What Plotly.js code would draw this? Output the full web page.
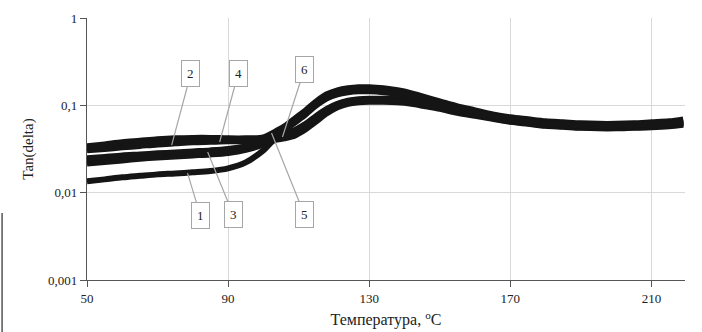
<!DOCTYPE html>
<html>
<head>
<meta charset="utf-8">
<script src="https://cdn.plot.ly/plotly-3.0.1.min.js"></script>
<style>html,body{margin:0;padding:0;background:#fff;}#chart{width:702px;height:332px;}</style>
</head>
<body>
<div id="chart"></div>
<script>
// Temperature, °C
const temperature = [50,55,60,65,70,75,80,85,90,95,100,103,106,109,112,115,118,121,124,127,130,134,138,142,146,150,155,160,165,170,175,180,185,190,195,200,205,210,215,219];

// Tan(delta) for each sample
const tan1 = [0.0135,0.0142,0.0150,0.0156,0.0162,0.0166,0.0171,0.0177,0.0190,0.0222,0.0305,0.0397,0.0419,0.0453,0.0531,0.0656,0.0810,0.0949,0.1041,0.1083,0.1097,0.1097,0.1083,0.1041,0.0974,0.0912,0.0821,0.0758,0.0701,0.0648,0.0614,0.0582,0.0568,0.0553,0.0545,0.0545,0.0553,0.0560,0.0575,0.0598];
const tan2 = [0.0339,0.0357,0.0377,0.0392,0.0408,0.0419,0.0424,0.0424,0.0419,0.0419,0.0430,0.0491,0.0575,0.0710,0.0877,0.1112,0.1338,0.1487,0.1567,0.1609,0.1609,0.1567,0.1487,0.1373,0.1236,0.1112,0.0974,0.0877,0.0789,0.0729,0.0691,0.0656,0.0639,0.0622,0.0614,0.0614,0.0622,0.0639,0.0656,0.0691];
const tan3 = [0.0228,0.0237,0.0247,0.0253,0.0260,0.0267,0.0274,0.0285,0.0297,0.0321,0.0367,0.0436,0.0472,0.0524,0.0614,0.0758,0.0912,0.1041,0.1127,0.1172,0.1188,0.1188,0.1172,0.1127,0.1054,0.0987,0.0889,0.0821,0.0758,0.0701,0.0665,0.0631,0.0614,0.0598,0.0590,0.0590,0.0598,0.0606,0.0622,0.0648];
const tan4 = [0.0305,0.0317,0.0330,0.0343,0.0357,0.0367,0.0377,0.0382,0.0387,0.0387,0.0397,0.0441,0.0517,0.0639,0.0789,0.1000,0.1203,0.1338,0.1410,0.1448,0.1448,0.1410,0.1338,0.1236,0.1112,0.1000,0.0877,0.0789,0.0710,0.0656,0.0622,0.0590,0.0575,0.0560,0.0553,0.0553,0.0560,0.0575,0.0590,0.0622];
const tan5 = [0.0216,0.0225,0.0234,0.0244,0.0253,0.0260,0.0267,0.0274,0.0285,0.0309,0.0357,0.0419,0.0453,0.0504,0.0590,0.0729,0.0877,0.1000,0.1083,0.1127,0.1141,0.1141,0.1127,0.1083,0.1014,0.0949,0.0854,0.0789,0.0729,0.0673,0.0639,0.0606,0.0590,0.0575,0.0568,0.0568,0.0575,0.0582,0.0598,0.0622];
const tan6 = [0.0247,0.0257,0.0267,0.0274,0.0282,0.0289,0.0297,0.0305,0.0317,0.0339,0.0387,0.0465,0.0545,0.0673,0.0831,0.1054,0.1269,0.1410,0.1487,0.1526,0.1526,0.1487,0.1410,0.1303,0.1172,0.1054,0.0924,0.0831,0.0748,0.0691,0.0656,0.0622,0.0606,0.0590,0.0582,0.0582,0.0590,0.0606,0.0622,0.0656];

// Curve labels: number, pointed point (T, tan), label box position (T, tan)
const labelNames = ['1','2','3','4','5','6'];
const labelPointT = [78.5, 74.0, 84.2, 87.6, 102.3, 105.4];
const labelPointV = [0.01677, 0.0351, 0.0292, 0.0380, 0.0482, 0.0434];
const labelBoxT = [82.1, 79.4, 91.4, 92.8, 111.6, 111.6];
const labelBoxV = [0.00553, 0.2286, 0.00561, 0.2286, 0.00561, 0.2570];

const xTicks = [50, 90, 130, 170, 210];
const yTicks = [0.001, 0.01, 0.1, 1];
const yTickText = ['0,001', '0,01', '0,1', '1'];

const series = [tan1, tan2, tan3, tan4, tan5, tan6];
const traces = series.map((ys, i) => ({
  x: temperature, y: ys, type: 'scatter', mode: 'lines',
  name: labelNames[i],
  line: {color: '#151515', width: 6, shape: 'spline', smoothing: 0.9},
  showlegend: false, hoverinfo: 'skip'
}));

const annotations = labelNames.map((t, i) => ({
  x: labelPointT[i], y: Math.log10(labelPointV[i]), xref: 'x', yref: 'y',
  ax: labelBoxT[i], ay: Math.log10(labelBoxV[i]), axref: 'x', ayref: 'y',
  text: t, showarrow: true, arrowhead: 0, arrowwidth: 1.2, arrowcolor: '#a6a6a6',
  bgcolor: '#ffffff', bordercolor: '#a6a6a6', borderwidth: 1, borderpad: 5,
  font: {family: 'Liberation Serif, serif', size: 13, color: '#222'}
}));
annotations.push({
  xref: 'paper', yref: 'paper', x: -0.0753, y: 1.062, xanchor: 'center', yanchor: 'bottom',
  text: 'Д', showarrow: false, font: {family: 'Liberation Serif, serif', size: 14, color: '#222'}
});

const layout = {
  width: 702, height: 332,
  margin: {l: 87, r: 17, t: 18, b: 52, pad: 0},
  paper_bgcolor: '#ffffff', plot_bgcolor: '#ffffff',
  font: {family: 'Liberation Serif, serif', size: 13, color: '#222'},
  xaxis: {
    range: [50, 219.5], tickvals: xTicks, ticktext: xTicks.map(String),
    showgrid: true, gridcolor: '#d9d9d9', gridwidth: 1,
    showline: true, linecolor: '#555', linewidth: 1.2,
    ticks: 'outside', ticklen: 6, tickcolor: '#555', zeroline: false,
    tickfont: {family: 'Liberation Serif, serif', size: 13, color: '#222'},
    title: {text: 'Температура, <sup>o</sup>C', standoff: 9,
            font: {family: 'Liberation Serif, serif', size: 16, color: '#222'}}
  },
  yaxis: {
    type: 'log', range: [-3, 0], tickvals: yTicks, ticktext: yTickText,
    showgrid: true, gridcolor: '#d9d9d9', gridwidth: 1,
    showline: true, linecolor: '#555', linewidth: 1.2,
    ticks: 'outside', ticklen: 6, tickcolor: '#555', zeroline: false,
    tickfont: {family: 'Liberation Serif, serif', size: 13, color: '#222'},
    title: {text: 'Tan(delta)', standoff: 10,
            font: {family: 'Liberation Serif, serif', size: 15, color: '#222'}}
  },
  shapes: [{
    type: 'line', xref: 'paper', yref: 'paper', x0: -0.142, x1: -0.142, y0: 0.256, y1: -0.2,
    line: {color: '#555', width: 1.5}
  }],
  annotations: annotations
};

Plotly.newPlot('chart', traces, layout, {displayModeBar: false, staticPlot: true});
</script>
</body>
</html>
